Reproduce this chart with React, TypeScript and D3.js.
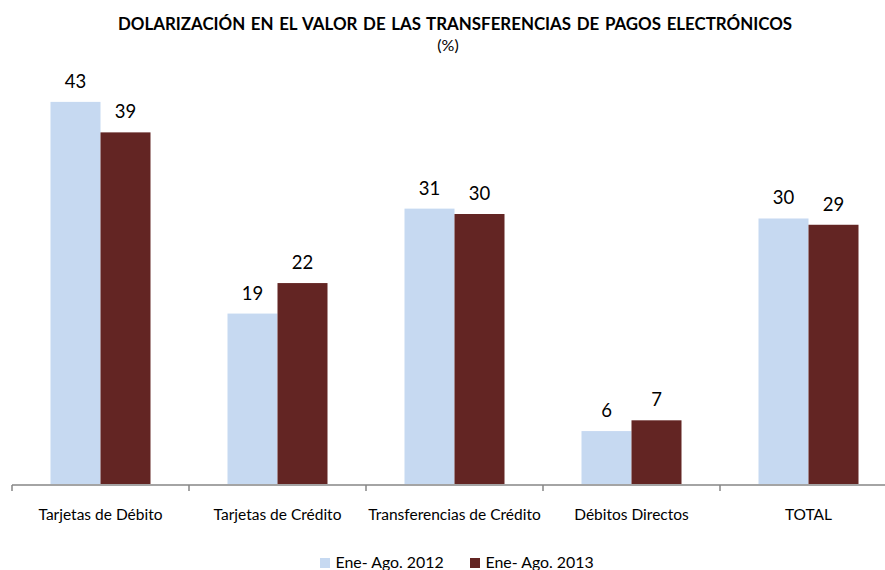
import { useEffect, useRef } from 'react';
import * as d3 from 'd3';

const categories = ['Tarjetas de Débito', 'Tarjetas de Crédito', 'Transferencias de Crédito', 'Débitos Directos', 'TOTAL'];
const seriesNames = ['Ene- Ago. 2012', 'Ene- Ago. 2013'];
const values2012 = [42.6, 19.0, 30.7, 5.9, 29.6];
const values2013 = [39.2, 22.4, 30.1, 7.1, 28.9];
const colors = ['#C6D9F1', '#632523'];

const FONT = 'Lato, "Open Sans", sans-serif';

export default function App() {
  const ref = useRef<SVGSVGElement>(null);

  useEffect(() => {
    if (!ref.current) return;
    const svg = d3.select(ref.current);
    svg.selectAll('*').remove();

    const width = 885;
    const baseline = 484;

    // Title
    svg.append('text')
      .attr('x', 455).attr('y', 30)
      .attr('text-anchor', 'middle')
      .attr('font-family', FONT)
      .attr('font-weight', 'bold')
      .attr('font-size', 16.9)
      .attr('word-spacing', 1.5)
      .attr('fill', '#000')
      .text('DOLARIZACIÓN EN EL VALOR DE LAS TRANSFERENCIAS DE PAGOS ELECTRÓNICOS');

    svg.append('text')
      .attr('x', 448).attr('y', 51)
      .attr('text-anchor', 'middle')
      .attr('font-family', FONT)
      .attr('font-size', 16)
      .attr('fill', '#000')
      .text('(%)');

    const x0 = d3.scaleBand<string>()
      .domain(categories)
      .range([12, 897])
      .paddingInner(0)
      .paddingOuter(0);

    const y = d3.scaleLinear()
      .domain([0, 45])
      .range([baseline, baseline - 45 * 8.97]);

    const rows = categories.map((c, i) => ({ cat: c, vals: [values2012[i], values2013[i]] }));

    const groups = svg.selectAll('g.cat')
      .data(rows)
      .enter()
      .append('g')
      .attr('class', 'cat')
      .attr('transform', d => `translate(${x0(d.cat)},0)`);

    const barW = 50;
    const bars = groups.selectAll('g.bar')
      .data(d => d.vals.map((v, j) => ({ v, j })))
      .enter()
      .append('g');

    bars.append('rect')
      .attr('x', d => x0.bandwidth() / 2 - barW + d.j * barW)
      .attr('y', d => y(d.v))
      .attr('width', barW)
      .attr('height', d => baseline - y(d.v))
      .attr('fill', d => colors[d.j]);

    bars.append('text')
      .attr('x', d => x0.bandwidth() / 2 - barW / 2 + d.j * barW)
      .attr('y', d => y(d.v) - 14)
      .attr('text-anchor', 'middle')
      .attr('font-family', FONT)
      .attr('font-size', 18.5)
      .attr('fill', '#000')
      .text(d => d3.format('.0f')(d.v));

    // Axis
    const axis = svg.append('g')
      .attr('transform', `translate(0,${baseline + 1})`);
    axis.append('line')
      .attr('x1', 12).attr('x2', width)
      .attr('stroke', '#868686').attr('stroke-width', 1.5);
    const bounds = [...categories.map(c => x0(c) as number), x0.range()[1]];
    axis.selectAll('line.tk')
      .data(bounds)
      .enter()
      .append('line')
      .attr('class', 'tk')
      .attr('x1', d => d).attr('x2', d => d)
      .attr('y1', 0).attr('y2', 6)
      .attr('stroke', '#868686').attr('stroke-width', 1.5);

    svg.selectAll('text.catlabel')
      .data(categories)
      .enter()
      .append('text')
      .attr('class', 'catlabel')
      .attr('x', d => (x0(d) as number) + x0.bandwidth() / 2)
      .attr('y', 519.5)
      .attr('text-anchor', 'middle')
      .attr('font-family', FONT)
      .attr('font-size', 15.5)
      .attr('fill', '#000')
      .text(d => d);

    // Legend
    const legendX = [320, 470];
    const leg = svg.selectAll('g.leg')
      .data(seriesNames)
      .enter()
      .append('g')
      .attr('class', 'leg')
      .attr('transform', (d, i) => `translate(${legendX[i]},558)`);
    leg.append('rect')
      .attr('width', 10).attr('height', 10)
      .attr('fill', (d, i) => colors[i]);
    leg.append('text')
      .attr('x', 15.5).attr('y', 9.5)
      .attr('font-family', FONT)
      .attr('font-size', 15.9)
      .attr('fill', '#000')
      .text(d => d);
  }, []);

  return (
    <>
      <style>{'body{margin:0}'}</style>
      <svg ref={ref} width={885} height={570} style={{ display: 'block', background: '#fff' }} />
    </>
  );
}
